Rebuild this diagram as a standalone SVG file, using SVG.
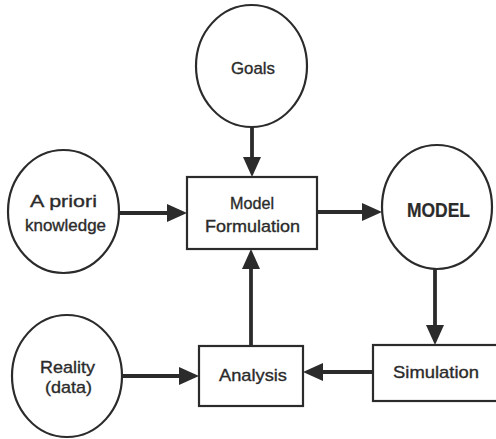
<svg xmlns="http://www.w3.org/2000/svg" width="496" height="439" viewBox="0 0 496 439">
  <style>
    .node { fill: #ffffff; stroke: #2b2b2b; stroke-width: 2.2; }
    .lbl { font-family: "Liberation Sans", Arial, sans-serif; font-size: 17px; fill: #2b2b2b; stroke: #2b2b2b; stroke-width: 0.35; text-anchor: middle; }
    .big { font-size: 20px; font-weight: bold; stroke-width: 0.2; }
    .conn { stroke: #2b2b2b; stroke-width: 3.8; fill: none; marker-end: url(#arrow); }
  </style>
  <defs>
    <marker id="arrow" markerUnits="userSpaceOnUse" markerWidth="22" markerHeight="20" refX="4" refY="9" orient="auto" viewBox="0 0 22 20">
      <path d="M0,0 L20,9 L0,18 Z" fill="#2b2b2b"/>
    </marker>
  </defs>
  <rect width="496" height="439" fill="#ffffff"/>

  <g id="connectors">
    <line class="conn" x1="252" y1="127" x2="252" y2="161"/>
    <line class="conn" x1="119" y1="213" x2="171" y2="213"/>
    <line class="conn" x1="317" y1="212" x2="366" y2="212"/>
    <line class="conn" x1="435" y1="269" x2="435" y2="329"/>
    <line class="conn" x1="373" y1="372" x2="319" y2="372"/>
    <line class="conn" x1="122" y1="376" x2="183" y2="376"/>
    <line class="conn" x1="251" y1="346" x2="251" y2="265"/>
  </g>

  <g id="goals">
    <ellipse class="node" cx="251.5" cy="66" rx="55.5" ry="61"/>
    <text class="lbl" x="253" y="74" textLength="44" lengthAdjust="spacingAndGlyphs">Goals</text>
  </g>

  <g id="apriori">
    <ellipse class="node" cx="63.5" cy="211.5" rx="55.5" ry="61.5"/>
    <text class="lbl" x="63.5" y="207" textLength="67" lengthAdjust="spacingAndGlyphs">A priori</text>
    <text class="lbl" x="65.5" y="231" textLength="81" lengthAdjust="spacingAndGlyphs">knowledge</text>
  </g>

  <g id="formulation">
    <rect class="node" x="187" y="177" width="130" height="72"/>
    <text class="lbl" x="252" y="209" textLength="44" lengthAdjust="spacingAndGlyphs">Model</text>
    <text class="lbl" x="252.5" y="232" textLength="95" lengthAdjust="spacingAndGlyphs">Formulation</text>
  </g>

  <g id="model">
    <ellipse class="node" cx="437" cy="207" rx="55" ry="62"/>
    <text class="lbl big" x="438.5" y="217" textLength="63" lengthAdjust="spacingAndGlyphs">MODEL</text>
  </g>

  <g id="reality">
    <ellipse class="node" cx="67" cy="376" rx="55" ry="61"/>
    <text class="lbl" x="67.5" y="373" textLength="55" lengthAdjust="spacingAndGlyphs">Reality</text>
    <text class="lbl" x="68.5" y="393" textLength="47" lengthAdjust="spacingAndGlyphs">(data)</text>
  </g>

  <g id="analysis">
    <rect class="node" x="199" y="346" width="104" height="60"/>
    <text class="lbl" x="253" y="381" textLength="68" lengthAdjust="spacingAndGlyphs">Analysis</text>
  </g>

  <g id="simulation">
    <rect class="node" x="373" y="345" width="130" height="56"/>
    <text class="lbl" x="436" y="378" textLength="86" lengthAdjust="spacingAndGlyphs">Simulation</text>
  </g>
</svg>
